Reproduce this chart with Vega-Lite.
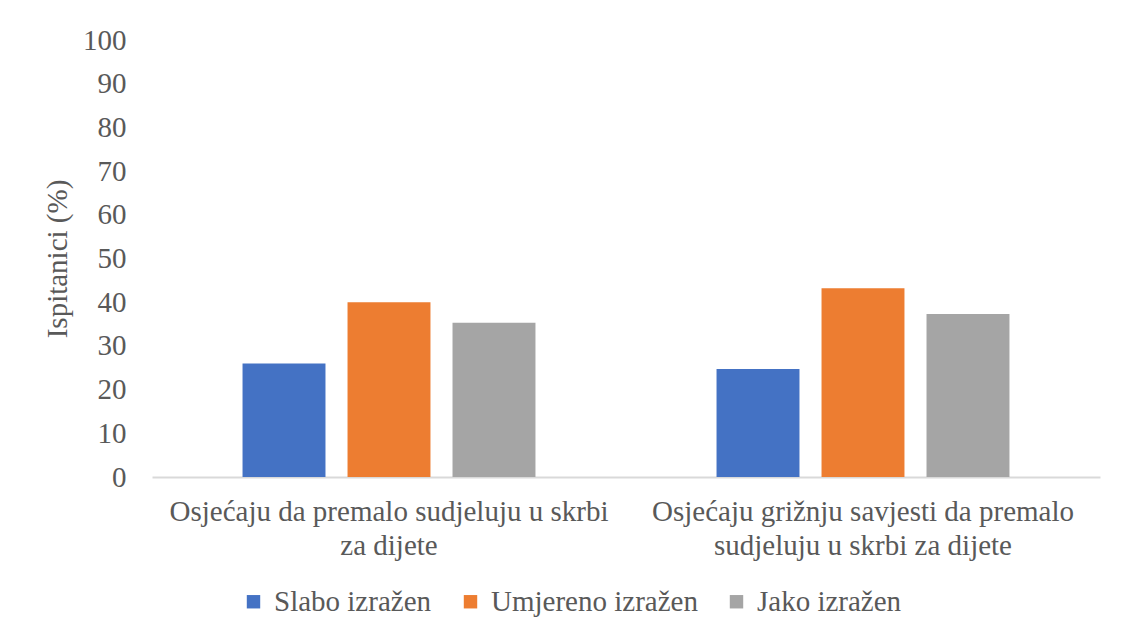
{
  "$schema": "https://vega.github.io/schema/vega-lite/v6.json",
  "width": 948,
  "height": 437,
  "autosize": "none",
  "padding": {"left": 152, "top": 40, "right": 24, "bottom": 157},
  "background": "white",
  "config": {
    "font": "Liberation Serif",
    "view": {"stroke": null}
  },
  "data": {
    "values": [
      {"g": "Osjećaju da premalo sudjeluju u skrbi|za dijete", "s": "Slabo izražen", "v": 26.0},
      {"g": "Osjećaju da premalo sudjeluju u skrbi|za dijete", "s": "Umjereno izražen", "v": 40.0},
      {"g": "Osjećaju da premalo sudjeluju u skrbi|za dijete", "s": "Jako izražen", "v": 35.3},
      {"g": "Osjećaju grižnju savjesti da premalo|sudjeluju u skrbi za dijete", "s": "Slabo izražen", "v": 24.7},
      {"g": "Osjećaju grižnju savjesti da premalo|sudjeluju u skrbi za dijete", "s": "Umjereno izražen", "v": 43.2},
      {"g": "Osjećaju grižnju savjesti da premalo|sudjeluju u skrbi za dijete", "s": "Jako izražen", "v": 37.3}
    ]
  },
  "mark": {"type": "bar"},
  "encoding": {
    "x": {
      "field": "g", "type": "nominal", "sort": null, "title": null,
      "scale": {"paddingInner": 0.382, "paddingOuter": 0.191},
      "axis": {
        "labelExpr": "split(datum.label, '|')",
        "labelAngle": 0, "labelFont": "Liberation Serif", "labelFontSize": 29,
        "labelColor": "#595959", "labelLineHeight": 34, "labelPadding": 20,
        "ticks": false, "domainColor": "#d9d9d9", "domainWidth": 2, "labelLimit": 0
      }
    },
    "y": {
      "field": "v", "type": "quantitative",
      "title": "Ispitanici (%)",
      "scale": {"domain": [0, 100]},
      "axis": {
        "values": [0, 10, 20, 30, 40, 50, 60, 70, 80, 90, 100],
        "grid": false, "domain": false, "ticks": false,
        "labelFont": "Liberation Serif", "labelFontSize": 29, "labelColor": "#595959",
        "labelPadding": 26,
        "titleFont": "Liberation Serif", "titleFontSize": 29, "titleColor": "#595959",
        "titleFontWeight": "normal", "titlePadding": 10
      }
    },
    "xOffset": {
      "field": "s", "type": "nominal",
      "sort": ["Slabo izražen", "Umjereno izražen", "Jako izražen"],
      "scale": {"paddingInner": 0.21, "paddingOuter": 0}
    },
    "color": {
      "field": "s", "type": "nominal",
      "sort": ["Slabo izražen", "Umjereno izražen", "Jako izražen"],
      "scale": {"domain": ["Slabo izražen", "Umjereno izražen", "Jako izražen"], "range": ["#4472c4", "#ed7d31", "#a5a5a5"]},
      "legend": {
        "title": null, "orient": "none", "legendX": 87, "legendY": 547, "direction": "horizontal",
        "symbolType": "square", "symbolSize": 180, "symbolStrokeWidth": 0,
        "labelFont": "Liberation Serif", "labelFontSize": 29, "labelColor": "#595959",
        "labelLimit": 0,
        "columnPadding": 24, "labelOffset": 6
      }
    }
  }
}
